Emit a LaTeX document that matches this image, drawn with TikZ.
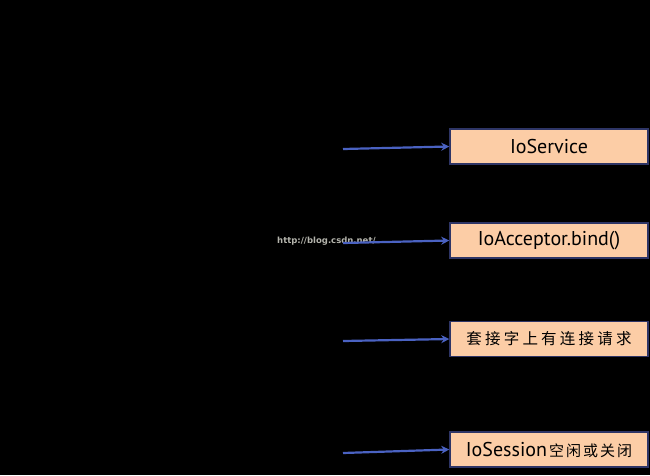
\documentclass[tikz,border=0pt]{standalone}
\usepackage{fontspec}
\setmainfont{PT Sans}
\newfontfamily\cjk{Noto Sans CJK SC}
\newfontfamily\wmfont{DejaVu Sans}
\usetikzlibrary{arrows.meta}
\definecolor{boxfill}{HTML}{FCCDA6}
\definecolor{boxline}{HTML}{2E3566}
\definecolor{arrowblue}{HTML}{4A62C2}
\definecolor{wmgray}{HTML}{B4B4AC}
\newcommand{\cs}{\hspace{3.2pt}}
\newcommand{\csb}{\hspace{2pt}}
\tikzset{
  evbox/.style={draw=boxline, line width=1.5pt, fill=boxfill, minimum width=198pt, minimum height=35pt, inner sep=0pt, font=\fontsize{20}{22}\selectfont},
  evarrow/.style={draw=arrowblue, line width=2.2pt, -{Stealth[length=8pt,width=8pt]}}
}
\begin{document}
\begin{tikzpicture}[x=1pt,y=-1pt]
\fill[black] (0,0) rectangle (650,475);
\useasboundingbox (0,0) rectangle (650,475);
\node[evbox] (b1) at (549,146.5) {IoService};
\node[evbox] (b2) at (549,240.5) {IoAcceptor.bind()};
\node[evbox] (b3) at (549,339) {\cjk\fontsize{15.5}{18}\selectfont 套\cs 接\cs 字\cs 上\cs 有\cs 连\cs 接\cs 请\cs 求};
\node[evbox] (b4) at (549,449.5) {IoSession\hspace{2pt}{\cjk\fontsize{15}{18}\selectfont 空\csb 闲\csb 或\csb 关\csb 闭}};
\node[anchor=west, inner sep=0pt, text=wmgray, font=\wmfont\fontsize{8.5}{9}\selectfont\bfseries] (wm) at (277,241) {http://blog.csdn.net/};
\coordinate (s1) at (343,149);
\coordinate (s2) at (343,243);
\coordinate (s3) at (343,341);
\coordinate (s4) at (343,453);
\draw[evarrow] (s1) -- (b1.west);
\draw[evarrow] (s2) -- (b2.west);
\draw[evarrow] (s3) -- (b3.west);
\draw[evarrow] (s4) -- (b4.west);
\end{tikzpicture}
\end{document}
